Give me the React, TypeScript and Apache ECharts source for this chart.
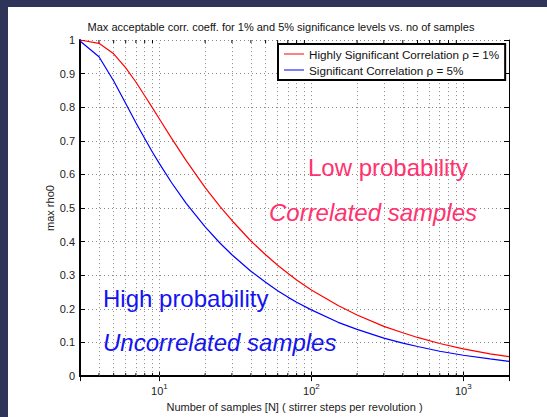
import React, { useEffect, useRef } from "react";
import * as echarts from "echarts";

const FONT = "'Liberation Sans', Arial, Helvetica, sans-serif";

// Number of samples N
const nSamples = [3, 4, 5, 6, 7, 8, 9, 10, 12, 15, 20, 25, 30, 40, 50, 60, 70, 80, 100, 150, 200, 300, 400, 500, 700, 1000, 1500, 2000];
// Max correlation coefficient, 1% significance
const rho1 = [1.0, 0.99, 0.959, 0.917, 0.875, 0.834, 0.798, 0.765, 0.708, 0.641, 0.561, 0.505, 0.463, 0.402, 0.361, 0.33, 0.306, 0.286, 0.256, 0.21, 0.182, 0.148, 0.129, 0.115, 0.097, 0.081, 0.066, 0.058];
// Max correlation coefficient, 5% significance
const rho5 = [0.997, 0.95, 0.878, 0.811, 0.754, 0.707, 0.666, 0.632, 0.576, 0.514, 0.444, 0.396, 0.361, 0.312, 0.279, 0.254, 0.235, 0.22, 0.197, 0.16, 0.139, 0.113, 0.098, 0.088, 0.074, 0.062, 0.051, 0.044];

// Log grid positions (major decades and minor 2..9 multiples)
const xGridValues = [4, 5, 6, 7, 8, 9, 10, 20, 30, 40, 50, 60, 70, 80, 90, 100, 200, 300, 400, 500, 600, 700, 800, 900, 1000];
// Minor tick positions on the log axis
const xMinorTicks = [4, 5, 6, 7, 8, 9, 20, 30, 40, 50, 60, 70, 80, 90, 200, 300, 400, 500, 600, 700, 800, 900];

const seriesNames = ["Highly Significant Correlation \u03c1 = 1%", "Significant Correlation \u03c1 = 5%"];
const titleText = "Max acceptable corr. coeff. for 1% and 5% significance levels vs. no of samples";
const xName = "Number of samples [N] ( stirrer steps per revolution )";
const yName = "max rho0";

const isPow10 = (v: number) => {
  const l = Math.log10(v);
  return Math.abs(l - Math.round(l)) < 1e-6;
};

export default function App() {
  const ref = useRef<HTMLDivElement>(null);
  useEffect(() => {
    document.body.style.margin = "0";
    const chart = echarts.init(ref.current!, null, { renderer: "svg" });
    const gridLine = { color: "#8a8a8a", width: 1, type: [1, 3] as any };
    const baseX = {
      type: "log" as const,
      logBase: 10,
      min: 3,
      max: 2000,
      splitLine: { show: false },
    };
    const baseY = {
      type: "value" as const,
      min: 0,
      max: 1,
      interval: 0.1,
    };
    chart.setOption({
      animation: false,
      backgroundColor: "#fff",
      grid: { left: 80, top: 40, right: 38, bottom: 40 },
      xAxis: [
        {
          ...baseX,
          position: "bottom",
          axisLine: { lineStyle: { color: "#000", width: 2 } },
          axisTick: { inside: true, length: 5, lineStyle: { color: "#000" } },
          axisLabel: {
            margin: 6,
            color: "#222",
            fontFamily: FONT,
            formatter: (v: number) => (isPow10(v) ? `{b|10}{s|${Math.round(Math.log10(v))}}` : ""),
            rich: {
              b: { fontSize: 11, fontFamily: FONT, color: "#222", verticalAlign: "bottom" },
              s: { fontSize: 8, fontFamily: FONT, color: "#222", verticalAlign: "bottom", padding: [0, 0, 6, 0] },
            },
          },
          name: xName,
          nameLocation: "middle",
          nameGap: 22,
          nameTextStyle: { fontSize: 11, fontFamily: FONT, color: "#222" },
        },
        {
          ...baseX,
          position: "top",
          axisLine: { lineStyle: { color: "#000", width: 1 } },
          axisTick: { inside: true, length: 5, lineStyle: { color: "#000" } },
          axisLabel: { show: false },
        },
      ],
      yAxis: [
        {
          ...baseY,
          position: "left",
          axisLine: { lineStyle: { color: "#000", width: 2 } },
          axisTick: { inside: true, length: 5, lineStyle: { color: "#000" } },
          axisLabel: { margin: 5, fontSize: 11, fontFamily: FONT, color: "#222" },
          splitLine: { show: true, lineStyle: gridLine },
          name: yName,
          nameLocation: "middle",
          nameGap: 25,
          nameMoveOverlap: false,
          nameTextStyle: { fontSize: 11, fontFamily: FONT, color: "#222" },
        },
        {
          ...baseY,
          position: "right",
          axisLine: { lineStyle: { color: "#000", width: 1 } },
          axisTick: { inside: true, length: 5, lineStyle: { color: "#000" } },
          axisLabel: { show: false },
          splitLine: { show: false },
        },
      ],
      legend: {
        orient: "vertical",
        left: 278,
        top: 44,
        data: seriesNames,
        icon: "rect",
        itemWidth: 20,
        itemHeight: 1,
        itemGap: 2,
        padding: [3, 6, 3, 6],
        borderColor: "#000",
        borderWidth: 2,
        borderRadius: 0,
        backgroundColor: "#fff",
        textStyle: { fontSize: 11.7, fontFamily: FONT, color: "#111", lineHeight: 14 },
      },
      graphic: [
        { type: "rect", shape: { x: 0, y: 0, width: 547, height: 7 }, style: { fill: "#2e3558" }, z: 100 },
        { type: "rect", shape: { x: 0, y: 0, width: 8, height: 417 }, style: { fill: "#2e3558" }, z: 100 },
        {
          type: "text", x: 281, y: 27, z: 100,
          style: { text: titleText, fontSize: 11, fontFamily: FONT, fill: "#111", align: "center", verticalAlign: "middle" },
        },
        {
          type: "text", x: 388, y: 167, z: 100,
          style: { text: "Low probability", fontSize: 24, fontFamily: FONT, fill: "#ff3370", align: "center", verticalAlign: "middle" },
        },
        {
          type: "text", x: 373, y: 212, z: 100,
          style: { text: "Correlated samples", fontSize: 24, fontStyle: "italic", fontFamily: FONT, fill: "#ff3370", align: "center", verticalAlign: "middle" },
        },
        {
          type: "text", x: 103, y: 298, z: 100,
          style: { text: "High probability", fontSize: 24, fontFamily: FONT, fill: "#1414f0", align: "left", verticalAlign: "middle" },
        },
        {
          type: "text", x: 103, y: 342, z: 100,
          style: { text: "Uncorrelated samples", fontSize: 24, fontStyle: "italic", fontFamily: FONT, fill: "#1414f0", align: "left", verticalAlign: "middle" },
        },
      ],
      series: [
        {
          name: seriesNames[0],
          type: "line",
          showSymbol: false,
          symbol: "none",
          color: "#ff0000",
          lineStyle: { color: "#ff0000", width: 1.2 },
          data: nSamples.map((n, i) => [n, rho1[i]]),
          z: 5,
          markLine: {
            silent: true,
            symbol: ["none", "none"],
            label: { show: false },
            lineStyle: gridLine,
            data: xGridValues.map((v) => ({ xAxis: v })),
            z: 1,
          },
        },
        {
          name: seriesNames[1],
          type: "line",
          showSymbol: false,
          symbol: "none",
          color: "#0000ff",
          lineStyle: { color: "#0000ff", width: 1.2 },
          data: nSamples.map((n, i) => [n, rho5[i]]),
          z: 5,
        },
        {
          name: "minorTicks",
          type: "custom",
          silent: true,
          z: 6,
          data: xMinorTicks.map((v) => [v]),
          renderItem: (params: any, api: any) => {
            const v = api.value(0);
            const b = api.coord([v, 0]);
            const t = api.coord([v, 1]);
            return {
              type: "group",
              children: [
                { type: "line", shape: { x1: b[0], y1: b[1], x2: b[0], y2: b[1] - 3 }, style: { stroke: "#000", lineWidth: 1 } },
                { type: "line", shape: { x1: t[0], y1: t[1], x2: t[0], y2: t[1] + 3 }, style: { stroke: "#000", lineWidth: 1 } },
              ],
            };
          },
        },
      ],
    });
    return () => chart.dispose();
  }, []);
  return <div ref={ref} style={{ width: 547, height: 417 }} />;
}
